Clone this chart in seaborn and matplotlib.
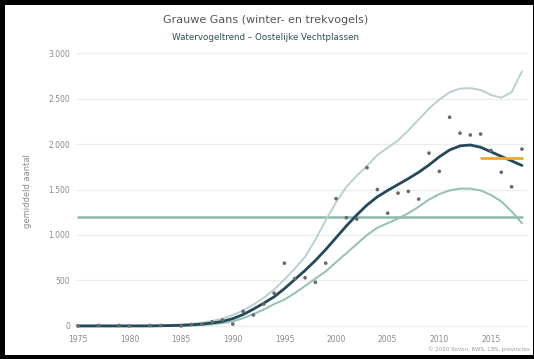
"""
Grauwe Gans - watervogeltrend Oostelijke Vechtplassen
"""

import numpy as np
import pandas as pd
import matplotlib
matplotlib.use('Agg')
import matplotlib.pyplot as plt
from matplotlib.patches import Rectangle
from matplotlib.ticker import FuncFormatter
import seaborn as sns

# ---- data ----
count_years = [1975, 1977, 1979, 1980, 1982, 1983, 1985, 1986, 1987, 1988, 1989,
               1990, 1991, 1992, 1993, 1994, 1995, 1996, 1997, 1998, 1999, 2000,
               2001, 2002, 2003, 2004, 2005, 2006, 2007, 2008, 2009, 2010, 2011,
               2012, 2013, 2014, 2015, 2016, 2017, 2018]
counts = [0, 5, 5, 0, 5, 5, 0, 15, 20, 45, 65,
          20, 160, 120, 240, 360, 690, 520, 530, 480, 690, 1400,
          1190, 1175, 1740, 1500, 1240, 1460, 1480, 1395, 1900, 1700, 2295,
          2120, 2100, 2110, 1930, 1690, 1530, 1945]

trend_years = list(range(1975, 2019))
trend = [0, 0, 0, 0, 0, 0, 0, 0, 2, 4, 7, 12, 20, 32, 50,
         80, 125, 185, 250, 320, 410, 510, 610, 720, 840, 970,
         1100, 1220, 1330, 1420, 1490, 1555, 1620, 1690, 1770, 1860,
         1935, 1980, 1990, 1965, 1915, 1865, 1815, 1765]
upper = [3, 3, 3, 3, 3, 3, 4, 5, 7, 10, 15, 22, 35, 55, 80,
         120, 170, 235, 310, 400, 510, 630, 760, 950, 1160, 1360,
         1530, 1650, 1760, 1880, 1960, 2040, 2150, 2270, 2390, 2490,
         2570, 2610, 2615, 2595, 2540, 2510, 2570, 2800]
lower = [-3, -3, -3, -3, -3, -2, -2, -1, 0, 0, 0, 5, 10, 18, 30,
         50, 85, 130, 180, 240, 290, 360, 440, 520, 600, 700,
         800, 900, 1000, 1080, 1130, 1180, 1240, 1310, 1390, 1450,
         1490, 1510, 1510, 1490, 1440, 1370, 1260, 1130]

ref_level = 1200                  # horizontal reference line
recent_years = [2014, 2018]       # last-five-year mean
recent_mean = 1850

title = 'Grauwe Gans (winter- en trekvogels)'
subtitle = 'Watervogeltrend \u2013 Oostelijke Vechtplassen'
credit = '\u00a9 2020 Sovon, RWS, CBS, provincies'

# ---- style ----
sns.set_style('white')
plt.rcParams['font.family'] = ['DejaVu Sans']

df_pts = pd.DataFrame({'jaar': count_years, 'aantal': counts})
df_trend = pd.DataFrame({'jaar': trend_years, 'trend': trend,
                         'boven': upper, 'onder': lower})

fig = plt.figure(figsize=(5.34, 3.59), dpi=100)
ax = fig.add_axes([0.142, 0.082, 0.847, 0.770])

# horizontal grid
for v in range(0, 3001, 500):
    ax.axhline(v, color='#ececec', linewidth=0.9, zorder=0)

# reference level
ax.plot([trend_years[0], trend_years[-1]], [ref_level, ref_level],
        color='#8db8ab', linewidth=1.8, zorder=1)

# confidence band lines
sns.lineplot(data=df_trend, x='jaar', y='boven', color='#bccfd0',
             linewidth=1.4, ax=ax, zorder=2)
sns.lineplot(data=df_trend, x='jaar', y='onder', color='#93bfb4',
             linewidth=1.4, ax=ax, zorder=2)

# trend
sns.lineplot(data=df_trend, x='jaar', y='trend', color='#24495a',
             linewidth=2.0, ax=ax, zorder=3)

# yearly counts
sns.scatterplot(data=df_pts, x='jaar', y='aantal', color='#6a6a6a',
                s=7, edgecolor='none', ax=ax, zorder=4)

# recent mean
ax.plot(recent_years, [recent_mean, recent_mean], color='#f0a830',
        linewidth=2.0, zorder=5)

ax.set_xlim(1974.8, 2018.6)
ax.set_ylim(-40, 3000)
ax.set_xticks(range(1975, 2016, 5))
ax.set_yticks(range(0, 3001, 500))
ax.yaxis.set_major_formatter(FuncFormatter(lambda v, p: f'{int(v):,}'.replace(',', '.')))
ax.tick_params(axis='both', length=0, labelsize=5.5, labelcolor='#8a8a8a', pad=4)
ax.set_xlabel('')
ax.set_ylabel('gemiddeld aantal', fontsize=6, color='#8a8a8a', labelpad=12)
for s in ax.spines.values():
    s.set_visible(False)

fig.text(0.497, 0.945, title, ha='center', va='center', fontsize=8, color='#555555')
fig.text(0.497, 0.895, subtitle, ha='center', va='center', fontsize=6.3, color='#2f4f4f')
fig.text(0.992, 0.028, credit, ha='right', va='center', fontsize=4, color='#9a9a9a')

# black frame around the picture
W, H = 534.0, 359.0
for (x0, y0, w, h) in [(0, 0, 5, H), (0, H - 5, W, 5), (0, 0, W, 4), (W - 1, 0, 1, H)]:
    fig.patches.append(Rectangle((x0 / W, y0 / H), w / W, h / H, transform=fig.transFigure,
                                 facecolor='black', edgecolor='none'))

fig.savefig('out.png', dpi=100, facecolor='white')
plt.close(fig)
